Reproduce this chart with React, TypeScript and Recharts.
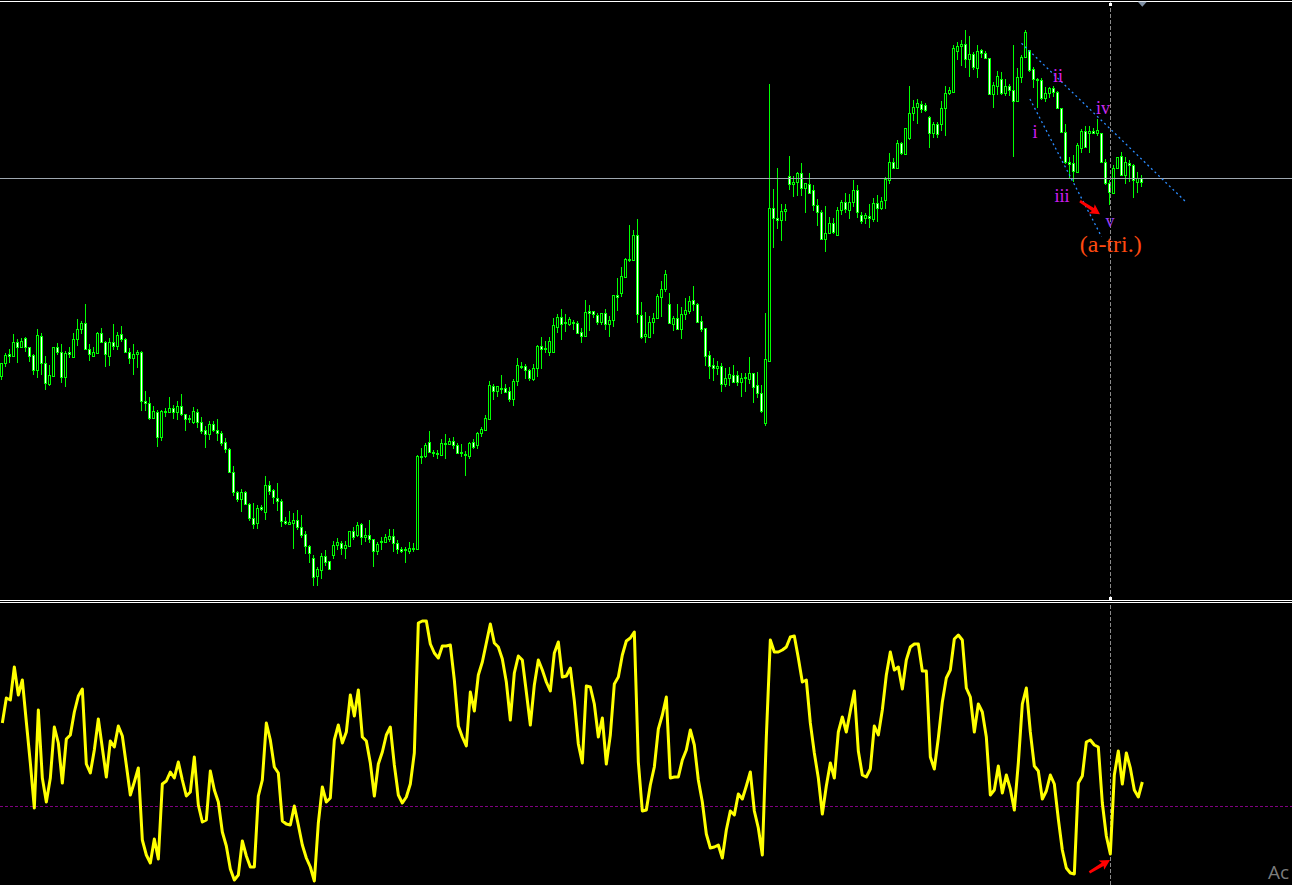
import React from 'react';
import {
  ComposedChart,
  LineChart,
  Bar,
  Line,
  XAxis,
  YAxis,
  ReferenceLine,
  ReferenceDot,
} from 'recharts';

// ---- Price data (bar index 0..285) ----
const opens = [
  224, 237, 246, 244, 258, 253, 262, 253, 245, 230,
  264, 237, 216, 224, 253, 248, 223, 248, 243, 261,
  271, 277, 251, 244, 247, 267, 258, 244, 258, 254,
  266, 261, 248, 242, 246, 248, 199, 197, 182, 188,
  163, 189, 188, 192, 188, 194, 186, 181, 178, 188,
  178, 170, 166, 176, 170, 167, 158, 151, 128, 108,
  101, 108, 96, 82, 77, 93, 88, 115, 110, 102,
  99, 79, 76, 77, 80, 73, 66, 54, 42, 24,
  30, 44, 39, 45, 55, 57, 52, 54, 69, 65,
  76, 63, 65, 61, 49, 58, 58, 61, 64, 57,
  51, 50, 49, 52, 51, 144, 144, 158, 148, 147,
  145, 157, 156, 159, 155, 148, 146, 144, 158, 155,
  167, 170, 181, 214, 209, 212, 212, 209, 201, 219,
  234, 234, 230, 221, 232, 254, 251, 248, 248, 273,
  283, 277, 276, 278, 277, 268, 264, 289, 289, 285,
  278, 287, 276, 280, 305, 307, 323, 341, 340, 365,
  285, 264, 263, 278, 282, 303, 311, 296, 276, 282,
  271, 286, 289, 300, 296, 279, 272, 245, 235, 232,
  234, 216, 222, 225, 225, 218, 222, 221, 227, 215,
  207, 177, 239, 392, 382, 380, 389, 424, 416, 418,
  427, 412, 416, 410, 395, 388, 361, 367, 377, 365,
  390, 398, 390, 398, 410, 385, 382, 384, 381, 397,
  392, 400, 420, 438, 432, 457, 446, 462, 487, 493,
  496, 495, 483, 467, 476, 476, 492, 507, 508, 549,
  554, 556, 541, 546, 532, 550, 547, 542, 506, 514,
  521, 507, 514, 510, 499, 523, 543, 550, 531, 521,
  520, 502, 507, 512, 508, 492, 468, 438, 437, 428,
  452, 469, 467, 469, 467, 467, 438, 417, 407, 432,
  444, 425, 437, 435, 418, 422,
];

const highs = [
  237, 247, 251, 266, 261, 262, 263, 253, 246, 271,
  267, 244, 235, 253, 257, 256, 249, 253, 267, 281,
  279, 296, 256, 253, 268, 272, 259, 262, 276, 268,
  274, 262, 252, 256, 250, 249, 209, 203, 194, 190,
  190, 192, 203, 195, 199, 206, 186, 185, 193, 191,
  183, 174, 179, 179, 181, 169, 162, 152, 134, 109,
  111, 109, 97, 97, 95, 95, 124, 119, 111, 117,
  101, 83, 89, 87, 90, 85, 69, 55, 45, 33,
  47, 50, 39, 59, 62, 59, 59, 69, 73, 78,
  77, 72, 80, 61, 58, 63, 66, 71, 71, 60,
  53, 53, 58, 57, 145, 152, 157, 169, 150, 150,
  161, 166, 162, 163, 157, 156, 149, 158, 161, 168,
  173, 185, 219, 216, 214, 225, 216, 213, 221, 242,
  238, 236, 231, 236, 255, 263, 259, 263, 282, 286,
  291, 286, 283, 280, 279, 272, 300, 295, 289, 287,
  287, 291, 284, 305, 322, 333, 342, 375, 370, 381,
  298, 288, 284, 287, 306, 319, 330, 307, 284, 296,
  293, 302, 304, 314, 297, 284, 272, 249, 242, 239,
  237, 232, 233, 235, 229, 227, 227, 243, 227, 228,
  215, 287, 516, 411, 432, 396, 396, 444, 424, 428,
  437, 417, 427, 415, 401, 390, 394, 383, 382, 393,
  400, 407, 406, 420, 415, 388, 387, 396, 402, 405,
  403, 423, 447, 442, 460, 458, 472, 514, 500, 501,
  499, 497, 484, 478, 478, 499, 514, 513, 555, 558,
  560, 570, 564, 548, 555, 551, 549, 542, 518, 529,
  528, 521, 516, 555, 532, 545, 570, 550, 533, 522,
  522, 513, 513, 514, 509, 492, 476, 443, 445, 457,
  471, 474, 474, 472, 481, 467, 441, 420, 435, 443,
  448, 443, 440, 436, 428, 425,
];

const lows = [
  220, 233, 237, 243, 237, 252, 248, 238, 225, 222,
  225, 210, 214, 224, 245, 217, 213, 242, 243, 254,
  266, 250, 239, 243, 246, 258, 233, 234, 250, 250,
  258, 247, 236, 225, 232, 189, 189, 180, 181, 153,
  159, 183, 188, 181, 180, 184, 169, 177, 176, 172,
  166, 152, 160, 168, 159, 154, 147, 127, 104, 98,
  88, 95, 79, 71, 71, 89, 80, 105, 96, 89,
  73, 75, 75, 51, 70, 62, 46, 37, 14, 14,
  21, 34, 30, 41, 50, 45, 41, 53, 60, 63,
  55, 58, 57, 33, 45, 50, 57, 58, 48, 46,
  47, 37, 46, 48, 50, 136, 142, 147, 143, 141,
  144, 141, 155, 151, 147, 143, 124, 141, 151, 151,
  163, 169, 180, 200, 203, 206, 207, 198, 194, 214,
  231, 221, 219, 219, 223, 231, 247, 244, 247, 267,
  260, 268, 274, 270, 266, 257, 263, 269, 282, 275,
  275, 270, 263, 273, 289, 303, 322, 338, 339, 277,
  261, 257, 262, 266, 282, 283, 308, 276, 269, 270,
  261, 280, 286, 289, 277, 268, 234, 221, 219, 225,
  208, 213, 214, 217, 214, 203, 208, 216, 197, 202,
  187, 174, 238, 352, 371, 359, 379, 410, 403, 404,
  404, 387, 406, 389, 374, 361, 348, 366, 366, 364,
  385, 387, 381, 393, 382, 376, 376, 372, 378, 378,
  390, 391, 416, 431, 431, 445, 445, 460, 479, 476,
  487, 488, 452, 462, 462, 469, 464, 505, 507, 540,
  534, 532, 523, 530, 522, 542, 541, 505, 492, 505,
  505, 504, 504, 443, 498, 517, 542, 528, 512, 492,
  500, 498, 502, 503, 491, 467, 436, 422, 418, 428,
  447, 452, 447, 466, 464, 437, 415, 395, 407, 432,
  424, 416, 418, 402, 407, 413,
];

const closes = [
  237, 245, 244, 258, 253, 259, 253, 244, 230, 265,
  237, 217, 225, 253, 248, 223, 247, 246, 261, 271,
  277, 251, 246, 248, 267, 258, 246, 258, 254, 265,
  261, 248, 242, 246, 248, 199, 197, 182, 189, 163,
  189, 188, 192, 188, 194, 186, 181, 182, 189, 178,
  169, 166, 176, 170, 167, 157, 151, 128, 108, 101,
  108, 96, 82, 76, 92, 91, 115, 109, 103, 99,
  79, 77, 78, 80, 73, 65, 54, 47, 23, 31,
  44, 38, 31, 55, 58, 52, 55, 69, 63, 75,
  63, 65, 61, 49, 56, 59, 63, 64, 57, 51,
  49, 51, 52, 51, 144, 143, 155, 148, 147, 146,
  157, 156, 159, 155, 147, 147, 145, 157, 153, 167,
  171, 182, 215, 209, 214, 211, 208, 201, 219, 235,
  233, 230, 222, 232, 254, 251, 252, 259, 275, 283,
  276, 278, 281, 277, 267, 264, 288, 287, 286, 278,
  287, 276, 280, 305, 303, 324, 341, 340, 365, 286,
  263, 266, 278, 282, 304, 311, 326, 277, 282, 271,
  286, 290, 299, 296, 278, 271, 244, 234, 232, 234,
  216, 222, 226, 218, 218, 222, 223, 227, 213, 207,
  189, 241, 392, 382, 380, 389, 391, 416, 418, 427,
  412, 417, 407, 395, 388, 361, 367, 377, 368, 390,
  398, 391, 398, 410, 388, 379, 385, 382, 397, 392,
  399, 421, 438, 432, 457, 447, 472, 487, 493, 497,
  491, 490, 467, 476, 466, 492, 507, 510, 552, 554,
  556, 541, 546, 533, 549, 547, 542, 506, 515, 524,
  507, 514, 510, 499, 523, 543, 568, 530, 521, 520,
  502, 507, 512, 508, 492, 468, 438, 436, 429, 455,
  469, 453, 469, 467, 470, 438, 417, 408, 432, 443,
  425, 438, 435, 420, 422, 418,
];

// ---- Oscillator (lower panel), one value per bar; 0 = dashed level ----
const oscValues = [
  83, 108, 106, 139, 111, 126, 84, 43, -2, 96,
  28, 4, 28, 79, 63, 23, 67, 71, 94, 110,
  117, 42, 33, 56, 87, 58, 29, 65, 59, 80,
  70, 41, 11, 24, 38, -34, -49, -57, -33, -53,
  22, 25, 34, 28, 44, 26, 10, 14, 49, 1,
  -16, -14, 35, 16, 4, -26, -40, -63, -74, -69,
  -35, -50, -61, -61, 10, 26, 83, 66, 39, 33,
  -15, -18, -19, 0, -19, -39, -52, -61, -75, -17,
  19, 4, 8, 66, 81, 63, 74, 111, 90, 116,
  69, 65, 43, 10, 42, 54, 71, 79, 41, 11,
  3, 9, 22, 53, 183, 185, 185, 162, 153, 148,
  160, 160, 161, 126, 80, 69, 60, 114, 95, 131,
  144, 163, 182, 163, 159, 147, 124, 86, 133, 150,
  146, 114, 81, 121, 146, 136, 124, 115, 153, 164,
  129, 130, 138, 105, 62, 43, 120, 119, 102, 69,
  88, 42, 71, 122, 129, 151, 165, 168, 174, 44,
  -5, -4, 21, 39, 77, 91, 109, 28, 29, 29,
  46, 56, 76, 61, 26, 4, -28, -42, -41, -39,
  -52, -24, -5, -9, 12, 7, 20, 34, -5, -22,
  -49, 69, 166, 154, 154, 156, 159, 169, 170, 148,
  124, 126, 83, 53, 28, -8, 20, 43, 28, 74,
  89, 74, 95, 115, 55, 31, 29, 37, 80, 71,
  96, 131, 154, 136, 139, 117, 146, 159, 162, 162,
  135, 135, 49, 37, 68, 104, 128, 136, 167, 171,
  166, 118, 109, 74, 102, 94, 69, 11, 16, 40,
  13, 31, 17, -4, 43, 102, 118, 74, 40, 35,
  7, 15, 31, 22, -13, -44, -62, -67, -68, 23,
  30, 64, 66, 61, 59, 3, -30, -48, 31, 55,
  22, 53, 38, 16, 9, 24,
];

const CURRENT_BAR = 277;
const LAST_BAR = 285;
const LEVEL_LINE = 421.5;
const X_DOMAIN: [number, number] = [-0.583, 322.42];
const PRICE_DOMAIN: [number, number] = [0, 600];
const OSC_DOMAIN: [number, number] = [-79, 203];

// wave labels (Elliott count)
const waveLabels = [
  { text: 'i', i: 258.2, v: 462, color: '#d21ef0', size: 18 },
  { text: 'ii', i: 263.9, v: 518, color: '#d21ef0', size: 18 },
  { text: 'iii', i: 264.9, v: 398, color: '#d21ef0', size: 18 },
  { text: 'iv', i: 275.2, v: 486, color: '#c82af0', size: 18 },
  { text: 'v', i: 276.9, v: 373, color: '#9a3df0', size: 18 },
  { text: '(a-tri.)', i: 277.1, v: 348, color: '#ff4a10', size: 24 },
];

const trendLines = [
  [{ x: 254.8, y: 556.7 }, { x: 296.1, y: 397.3 }],
  [{ x: 256.9, y: 501 }, { x: 274.8, y: 363.3 }],
];

const priceRows = opens.map((o, i) => ({
  i,
  range: [lows[i], highs[i]],
  o,
  h: highs[i],
  l: lows[i],
  c: closes[i],
}));
const oscRows = oscValues.map((v, i) => ({ i, v }));

const GREEN = '#00ff00';

const Candle = (props: any) => {
  const { x, y, width, height, payload } = props;
  if (payload == null || height == null) return null;
  const cx = Math.floor(x + width / 2) + 0.5;
  const { o, h, l, c } = payload;
  const span = h - l || 1;
  const yo = y + ((h - o) / span) * height;
  const yc = y + ((h - c) / span) * height;
  const top = Math.round(Math.min(yo, yc));
  const bot = Math.round(Math.max(yo, yc));
  const bull = c > o;
  return (
    <g>
      <line
        x1={cx}
        x2={cx}
        y1={Math.round(y)}
        y2={Math.round(y + height)}
        stroke={GREEN}
        strokeWidth={1}
        shapeRendering="crispEdges"
      />
      <rect
        x={cx - 1}
        y={top + 0.5}
        width={2}
        height={Math.max(bot - top, 1)}
        fill={bull ? '#000000' : '#ffffff'}
        stroke={GREEN}
        strokeWidth={1}
        shapeRendering="crispEdges"
      />
    </g>
  );
};

const makeArrow = (angleDeg: number) => (p: any) => {
  const { cx, cy } = p;
  if (cx == null || cy == null) return null;
  const pts = '0,0 -10,-5.5 -8.5,-1.8 -24,-1.2 -24,1.4 -8.5,1.8 -10,5.5';
  return (
    <polygon
      points={pts}
      fill="#ff0000"
      transform={`translate(${cx},${cy}) rotate(${angleDeg})`}
    />
  );
};

const makeText = (t: { text: string; color: string; size: number }) => (p: any) => {
  const { cx, cy } = p;
  if (cx == null || cy == null) return null;
  return (
    <text
      x={cx}
      y={cy}
      textAnchor="middle"
      fontFamily="'Liberation Serif', 'DejaVu Serif', serif"
      fontSize={t.size}
      fill={t.color}
    >
      {t.text}
    </text>
  );
};

const squareShape = (p: any) => {
  const { cx, cy } = p;
  if (cx == null || cy == null) return null;
  return <rect x={Math.floor(cx) - 1} y={Math.round(cy) - 1} width={3} height={3} fill="#ffffff" />;
};

const triangleShape = (p: any) => {
  const { cx, cy } = p;
  if (cx == null || cy == null) return null;
  return (
    <polygon
      points={`${cx - 4.5},${cy - 2.5} ${cx + 4.5},${cy - 2.5} ${cx},${cy + 2.5}`}
      fill="#7e8fa3"
    />
  );
};

export default function App() {
  return (
    <div
      style={{
        position: 'absolute',
        left: 0,
        top: 0,
        width: 1292,
        height: 885,
        background: '#000000',
        overflow: 'hidden',
      }}
    >
      {/* top frame and panel separators */}
      <div style={{ position: 'absolute', left: 0, top: 1, width: 1292, height: 1, background: '#ffffff' }} />
      <div style={{ position: 'absolute', left: 0, top: 600, width: 1292, height: 1, background: '#ffffff' }} />
      <div style={{ position: 'absolute', left: 0, top: 602, width: 1292, height: 1, background: '#ffffff' }} />

      <div style={{ position: 'absolute', left: 0, top: 0 }}>
        <ComposedChart
          width={1292}
          height={600}
          data={priceRows}
          margin={{ top: 0, right: 0, bottom: 0, left: 0 }}
        >
          <XAxis type="number" dataKey="i" domain={X_DOMAIN} allowDataOverflow hide scale="linear" />
          <YAxis type="number" domain={PRICE_DOMAIN} allowDataOverflow hide />
          <ReferenceLine y={LEVEL_LINE} stroke="#9ea7b0" strokeWidth={1} shapeRendering="crispEdges" />
          <ReferenceLine
            x={CURRENT_BAR}
            stroke="#8a8a8a"
            strokeDasharray="4 2"
            strokeWidth={1}
            shapeRendering="crispEdges"
          />
          <Bar dataKey="range" barSize={3} shape={Candle} isAnimationActive={false} />
          {trendLines.map((seg, k) => (
            <ReferenceLine
              key={'tl' + k}
              segment={seg}
              stroke="#2a8cff"
              strokeWidth={1.3}
              strokeDasharray="2 3"
              ifOverflow="visible"
            />
          ))}
          {waveLabels.map((t, k) => (
            <ReferenceDot key={'wl' + k} x={t.i} y={t.v} r={0} shape={makeText(t)} ifOverflow="visible" />
          ))}
          <ReferenceDot x={274.42} y={385.7} r={0} shape={makeArrow(33.6)} ifOverflow="visible" />
          <ReferenceDot x={CURRENT_BAR} y={595.7} r={0} shape={squareShape} ifOverflow="visible" />
          <ReferenceDot x={CURRENT_BAR} y={2} r={0} shape={squareShape} ifOverflow="visible" />
          <ReferenceDot x={LAST_BAR} y={595.8} r={0} shape={triangleShape} ifOverflow="visible" />
        </ComposedChart>
      </div>

      <div style={{ position: 'absolute', left: 0, top: 603 }}>
        <LineChart
          width={1292}
          height={282}
          data={oscRows}
          margin={{ top: 0, right: 0, bottom: 0, left: 0 }}
        >
          <XAxis type="number" dataKey="i" domain={X_DOMAIN} allowDataOverflow hide scale="linear" />
          <YAxis type="number" domain={OSC_DOMAIN} allowDataOverflow hide />
          <ReferenceLine y={-0.5} stroke="#800080" strokeDasharray="3 2" strokeWidth={1} shapeRendering="crispEdges" />
          <ReferenceLine
            x={CURRENT_BAR}
            stroke="#8a8a8a"
            strokeDasharray="4 2"
            strokeWidth={1}
            shapeRendering="crispEdges"
          />
          <Line
            type="linear"
            dataKey="v"
            stroke="#ffff00"
            strokeWidth={3}
            strokeLinejoin="round"
            dot={false}
            activeDot={false}
            isAnimationActive={false}
          />
          <ReferenceDot x={276.92} y={-54} r={0} shape={makeArrow(-30.7)} ifOverflow="visible" />
        </LineChart>
      </div>

      <svg
        width={1292}
        height={885}
        style={{ position: 'absolute', left: 0, top: 0, pointerEvents: 'none' }}
      >
        <text
          x={1268}
          y={879}
          fontFamily="'Open Sans', 'Noto Sans', sans-serif"
          fontSize={19}
          fill="#7c7c7c"
        >
          Ac
        </text>
      </svg>
    </div>
  );
}
